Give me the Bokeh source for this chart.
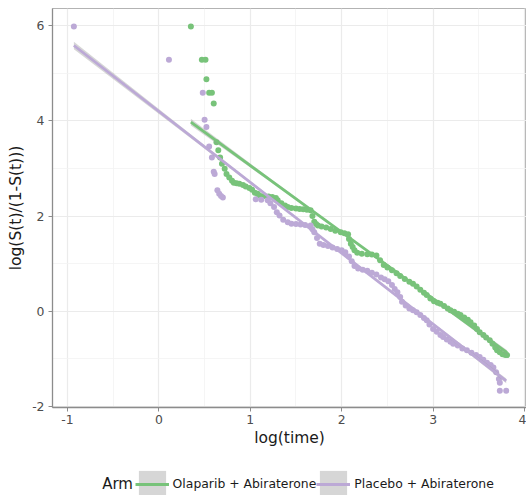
import numpy as np
from bokeh.plotting import figure
from bokeh.layouts import column
from bokeh.models import FixedTicker, Legend, LegendItem, Label, Range1d
from bokeh.embed import file_html
from bokeh.resources import INLINE

# ---- data ----
arm_title = "Arm"
arm_names = ["Olaparib + Abiraterone", "Placebo + Abiraterone"]

olaparib_x = [0.35, 0.47, 0.51, 0.52, 0.55, 0.58, 0.60, 0.63, 0.65, 0.67, 0.69, 0.72, 0.74, 0.77,
              0.80, 0.82, 0.85, 0.88, 0.92, 0.95, 0.99, 1.02, 1.05, 1.08, 1.10, 1.15, 1.20, 1.24,
              1.28, 1.30, 1.34, 1.38, 1.41, 1.45, 1.50, 1.54, 1.58, 1.62, 1.66, 1.68, 1.70, 1.72,
              1.74, 1.78, 1.83, 1.88, 1.93, 1.99, 2.03, 2.07, 2.08, 2.10, 2.12, 2.14, 2.17, 2.22,
              2.28, 2.33, 2.38, 2.42, 2.46, 2.50, 2.55, 2.60, 2.64, 2.69, 2.74, 2.78, 2.82, 2.86,
              2.90, 2.93, 2.97, 3.01, 3.05, 3.08, 3.12, 3.16, 3.19, 3.23, 3.27, 3.30, 3.34, 3.38,
              3.41, 3.45, 3.48, 3.51, 3.55, 3.58, 3.62, 3.65, 3.68, 3.70, 3.73, 3.76, 3.79, 3.81]
olaparib_y = [5.98, 5.28, 5.28, 4.87, 4.59, 4.59, 4.36, 3.55, 3.38, 3.23, 3.10, 2.99, 2.88, 2.81,
              2.74, 2.70, 2.69, 2.68, 2.65, 2.62, 2.59, 2.55, 2.49, 2.47, 2.43, 2.42, 2.41, 2.40,
              2.38, 2.33, 2.27, 2.22, 2.19, 2.17, 2.16, 2.15, 2.14, 2.13, 2.12, 2.00, 1.88, 1.83,
              1.80, 1.78, 1.76, 1.73, 1.69, 1.66, 1.64, 1.62, 1.52, 1.42, 1.35, 1.28, 1.23, 1.21,
              1.20, 1.19, 1.17, 1.07, 0.97, 0.92, 0.86, 0.80, 0.74, 0.68, 0.62, 0.58, 0.52, 0.45,
              0.39, 0.34, 0.27, 0.21, 0.18, 0.16, 0.11, 0.06, 0.02, -0.01, -0.05, -0.08, -0.13, -0.18,
              -0.23, -0.30, -0.37, -0.44, -0.50, -0.55, -0.61, -0.68, -0.76, -0.82, -0.86, -0.90, -0.92, -0.92]

placebo_x = [-0.93, 0.11, 0.48, 0.50, 0.52, 0.55, 0.58, 0.60, 0.61, 0.64, 0.66, 0.68, 0.70, 1.06,
             1.12, 1.19, 1.22, 1.26, 1.29, 1.32, 1.36, 1.41, 1.45, 1.50, 1.55, 1.60, 1.66, 1.68,
             1.70, 1.73, 1.76, 1.80, 1.85, 1.90, 1.95, 2.00, 2.04, 2.08, 2.11, 2.14, 2.18, 2.23,
             2.28, 2.33, 2.38, 2.43, 2.47, 2.51, 2.55, 2.58, 2.61, 2.64, 2.66, 2.70, 2.74, 2.78,
             2.82, 2.86, 2.90, 2.93, 2.96, 3.00, 3.04, 3.08, 3.11, 3.15, 3.19, 3.22, 3.27, 3.32,
             3.37, 3.42, 3.47, 3.51, 3.55, 3.59, 3.63, 3.66, 3.69, 3.72, 3.73, 3.73, 3.80]
placebo_y = [5.98, 5.28, 4.59, 4.02, 3.87, 3.46, 3.23, 2.93, 2.88, 2.54, 2.47, 2.42, 2.39, 2.35,
             2.34, 2.33, 2.27, 2.19, 2.08, 2.01, 1.92, 1.87, 1.84, 1.83, 1.82, 1.81, 1.80, 1.72,
             1.66, 1.54, 1.42, 1.39, 1.37, 1.34, 1.31, 1.28, 1.24, 1.15, 1.05, 0.95, 0.90, 0.87,
             0.85, 0.81, 0.77, 0.71, 0.67, 0.63, 0.55, 0.47, 0.40, 0.30, 0.20, 0.12, 0.06, 0.02,
             -0.02, -0.08, -0.14, -0.19, -0.28, -0.37, -0.43, -0.50, -0.54, -0.59, -0.64, -0.68, -0.72, -0.78,
             -0.82, -0.87, -0.92, -0.96, -1.02, -1.08, -1.13, -1.18, -1.28, -1.42, -1.50, -1.67, -1.67]

# fitted (lm) lines and their confidence half-widths
olaparib_fit_x = [0.35, 3.81]
olaparib_fit_y = [3.97, -0.87]
placebo_fit_x = [-0.93, 3.80]
placebo_fit_y = [5.58, -1.46]
olaparib_band_x = [0.35, 1.2, 2.1, 3.0, 3.81]
olaparib_band_hw = [0.07, 0.035, 0.02, 0.03, 0.05]
placebo_band_x = [-0.93, 0.4, 1.9, 3.0, 3.80]
placebo_band_hw = [0.08, 0.04, 0.015, 0.03, 0.05]

x_ticks = [-1, 0, 1, 2, 3, 4]
x_tick_labels = ["-1", "0", "1", "2", "3", "4"]
x_minor = [-0.5, 0.5, 1.5, 2.5, 3.5]
y_ticks = [-2, 0, 2, 4, 6]
y_tick_labels = ["-2", "0", "2", "4", "6"]
y_minor = [-1, 1, 3, 5]

GREEN = "#78C37A"
PURPLE = "#BCA9D6"
BAND = "#999999"
FONT = "DejaVu Sans"

p = figure(width=526, height=455, x_range=Range1d(-1.164, 4.022), y_range=Range1d(-2.02, 6.357),
           output_backend="svg", toolbar_location=None,
           min_border_left=52, min_border_right=0, min_border_top=8, min_border_bottom=48)
p.background_fill_color = "white"
p.border_fill_color = "white"
p.outline_line_color = "#B3B3B3"
p.outline_line_width = 1

series = [
    (olaparib_x, olaparib_y, olaparib_fit_x, olaparib_fit_y, olaparib_band_x, olaparib_band_hw, GREEN),
    (placebo_x, placebo_y, placebo_fit_x, placebo_fit_y, placebo_band_x, placebo_band_hw, PURPLE),
]

for xs, ys, fx, fy, bx, bhw, col in series:
    p.scatter(xs, ys, size=6, fill_color=col, line_color=None)

for xs, ys, fx, fy, bx, bhw, col in series:
    bx = np.array(bx)
    centre = np.interp(bx, fx, fy)
    hw = np.array(bhw)
    p.varea(x=bx, y1=centre - hw, y2=centre + hw, fill_color=BAND, fill_alpha=0.4)
    p.line(fx, fy, line_color=col, line_width=2.8)

for ax, ticks, minor, labels in [(p.xaxis, x_ticks, x_minor, x_tick_labels),
                                 (p.yaxis, y_ticks, y_minor, y_tick_labels)]:
    ax.ticker = FixedTicker(ticks=ticks, minor_ticks=minor)
    ax.major_label_overrides = {t: l for t, l in zip(ticks, labels)}
    ax.axis_line_color = "#8C8C8C"
    ax.axis_line_width = 1.3
    ax.major_tick_line_color = "#8C8C8C"
    ax.major_tick_out = 4
    ax.major_tick_in = 0
    ax.minor_tick_line_color = None
    ax.major_label_text_font = FONT
    ax.major_label_text_font_size = "12.4px"
    ax.major_label_text_color = "#4D4D4D"
    ax.axis_label_text_font = FONT
    ax.axis_label_text_font_size = "15.5px"
    ax.axis_label_text_font_style = "normal"
    ax.axis_label_text_color = "#1A1A1A"

p.xaxis.axis_label = "log(time)"
p.yaxis.axis_label = "log(S(t)/(1-S(t)))"
p.xaxis.major_label_standoff = 3
p.xaxis.axis_label_standoff = 2
p.yaxis.major_label_standoff = 4
p.yaxis.axis_label_standoff = 4

for g in (p.xgrid, p.ygrid):
    g.grid_line_color = "#EBEBEB"
    g.grid_line_width = 1.2
    g.minor_grid_line_color = "#F2F2F2"
    g.minor_grid_line_width = 0.8

# ---- legend strip below the plot (its frame is aligned with the plot frame, x from 52) ----
leg = figure(width=526, height=40, x_range=Range1d(0, 1), y_range=Range1d(0, 1),
             output_backend="svg", toolbar_location=None,
             x_axis_location=None, y_axis_location=None,
             min_border_left=0, min_border_right=0, min_border_top=0, min_border_bottom=0)
leg.outline_line_color = None
leg.xgrid.visible = False
leg.ygrid.visible = False

items = []
for name, col in zip(arm_names, [GREEN, PURPLE]):
    band_r = leg.varea(x=[np.nan], y1=[np.nan], y2=[np.nan], fill_color=BAND, fill_alpha=0.4)
    line_r = leg.line(x=[np.nan], y=[np.nan], line_color=col, line_width=2.8)
    items.append(LegendItem(label=name, renderers=[band_r, line_r]))

legend = Legend(items=items, orientation="horizontal", location=(82.6, -5.5),
                glyph_width=34, glyph_height=34, label_standoff=4, spacing=-14,
                padding=0, margin=0, border_line_alpha=0, background_fill_alpha=0,
                label_text_font=FONT, label_text_font_size="12.4px", label_text_color="#1A1A1A")
leg.add_layout(legend, "center")
leg.add_layout(Label(x=49.7, y=11.5, x_units="screen", y_units="screen", text=arm_title,
                     text_font=FONT, text_font_size="15px", text_color="#1A1A1A",
                     text_baseline="middle", text_align="left"))

page = column(p, leg, spacing=0)
open("out.html", "w").write(file_html(page, INLINE))
